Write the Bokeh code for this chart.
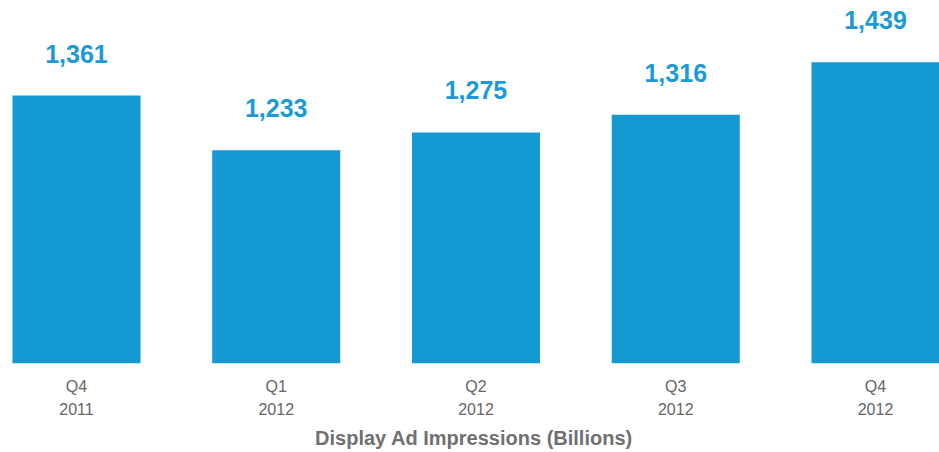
from bokeh.plotting import figure
from bokeh.models import Range1d, LinearAxis, FixedTicker, ColumnDataSource
from bokeh.core.properties import value
from bokeh.embed import file_html
from bokeh.resources import INLINE

quarters = ["Q4", "Q1", "Q2", "Q3", "Q4"]
years = ["2011", "2012", "2012", "2012", "2012"]
impressions = [1361, 1233, 1275, 1316, 1439]
axis_title = "Display Ad Impressions (Billions)"

BAR = "#1499d3"
xs = list(range(len(impressions)))
src = ColumnDataSource(dict(
    x=xs,
    top=impressions,
    label=[f"{v:,}" for v in impressions],
))

p = figure(width=939, height=452, output_backend="svg", toolbar_location=None,
           x_range=Range1d(-0.3404, 4.3204), y_range=Range1d(734.7, 1564.7),
           x_axis_location=None, y_axis_location=None,
           min_border_left=8, min_border_right=0, min_border_top=8,
           min_border_bottom=89)
p.outline_line_color = None
p.xgrid.visible = False
p.ygrid.visible = False
p.background_fill_color = "white"

p.vbar(x="x", top="top", bottom=0, width=0.641, source=src,
       fill_color=BAR, line_color=None)
p.text(x="x", y="top", text="label", source=src, y_offset=-42,
       text_align="center", text_baseline="alphabetic",
       text_font=value("Liberation Sans"), text_font_style="bold",
       text_font_size="25px", text_color="#1a9ad6")

ax = LinearAxis(ticker=FixedTicker(ticks=xs))
ax.major_label_overrides = {i: f"{q}\n{y}" for i, (q, y) in enumerate(zip(quarters, years))}
ax.axis_line_color = None
ax.major_tick_line_color = None
ax.minor_tick_line_color = None
ax.major_tick_out = 0
ax.major_tick_in = 0
ax.major_label_standoff = 14
ax.major_label_text_font = "Liberation Sans"
ax.major_label_text_font_size = "16px"
ax.major_label_text_color = "#666666"
ax.major_label_text_line_height = 1.4
ax.axis_label = axis_title
ax.axis_label_text_font = "Liberation Sans"
ax.axis_label_text_font_style = "bold"
ax.axis_label_text_font_size = "20px"
ax.axis_label_text_color = "#707070"
ax.axis_label_standoff = 6
p.add_layout(ax, "below")

open("out.html", "w").write(file_html(p, INLINE))
